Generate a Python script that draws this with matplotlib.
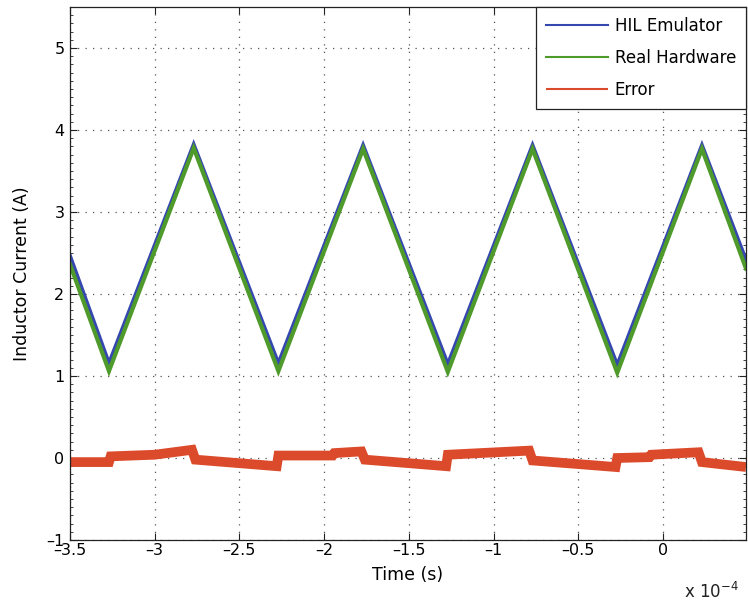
import numpy as np
import matplotlib
matplotlib.use("Agg")
import matplotlib.pyplot as plt
from matplotlib.ticker import FuncFormatter, MultipleLocator

# time breakpoints (units of 1e-4 s) of the triangle current
t_tri = [-3.5, -3.27, -2.77, -2.27, -1.77, -1.27, -0.77, -0.27, 0.23, 0.49]
hil_current = [2.45, 1.14, 3.81, 1.14, 3.80, 1.13, 3.80, 1.12, 3.80, 2.40]
hw_current = [2.36, 1.06, 3.78, 1.06, 3.77, 1.05, 3.77, 1.04, 3.77, 2.31]

# error trace breakpoints
t_err = [-3.5, -3.27, -3.26, -3.0, -2.78, -2.76, -2.28, -2.27, -1.95, -1.94,
         -1.78, -1.76, -1.28, -1.27, -0.79, -0.77, -0.28, -0.27, -0.08, -0.07,
         0.21, 0.23, 0.49]
err = [-0.05, -0.05, 0.02, 0.04, 0.10, -0.02, -0.10, 0.03, 0.03, 0.06,
       0.08, -0.02, -0.10, 0.04, 0.09, -0.03, -0.11, 0.00, 0.01, 0.04,
       0.07, -0.05, -0.11]

x_ticks = [-3.5, -3, -2.5, -2, -1.5, -1, -0.5, 0]
y_ticks = [-1, 0, 1, 2, 3, 4, 5]

scale = 1e-4
t_tri_s = np.array(t_tri) * scale
t_err_s = np.array(t_err) * scale

plt.rcParams['font.family'] = 'DejaVu Sans'

fig = plt.figure(figsize=(7.48, 6.05), dpi=100)
ax = fig.add_axes([70 / 748, 65 / 605, 676 / 748, 533 / 605])

ax.plot(t_tri_s, hil_current, color='#3548b0', lw=3.4, label='HIL Emulator', solid_joinstyle='miter')
ax.plot(t_tri_s, hw_current, color='#4e9a2a', lw=3.0, label='Real Hardware', solid_joinstyle='miter')
ax.plot(t_err_s, err, color='#dc4a2c', lw=7, label='Error', solid_capstyle='butt', solid_joinstyle='miter')

ax.set_xlim(-3.5 * scale, 0.49 * scale)
ax.set_ylim(-1, 5.5)
ax.set_xticks(np.array(x_ticks) * scale)
ax.set_yticks(y_ticks)
ax.yaxis.set_minor_locator(MultipleLocator(0.1))
ax.xaxis.set_major_formatter(FuncFormatter(lambda v, p: '%g' % round(v / scale, 2) if v >= 0 else '\u2013%g' % round(-v / scale, 2)))
ax.yaxis.set_major_formatter(FuncFormatter(lambda v, p: '%g' % v if v >= 0 else '\u2013%g' % -v))

ax.tick_params(which='both', direction='in', top=True, right=True, labelsize=11.5, color='#222222')
ax.tick_params(which='major', length=5, width=0.8)
ax.tick_params(which='minor', length=2.5, width=0.6)
ax.tick_params(axis='x', pad=2)
ax.tick_params(axis='y', pad=4)

ax.grid(True, which='major', color='#555555', linestyle=(0, (1, 5)), linewidth=0.9)
for s in ax.spines.values():
    s.set_color('#222222')
    s.set_linewidth(0.9)

ax.set_xlabel('Time (s)', fontsize=12.5, labelpad=6)
ax.set_ylabel('Inductor Current (A)', fontsize=12.5, labelpad=11)

fig.text(0.915, 0.022, r'x 10$^{-4}$', fontsize=12, ha='left', va='center', color='#222222')

leg = ax.legend(loc='upper right', borderaxespad=0, fancybox=False, framealpha=1,
                edgecolor='#222222', fontsize=12, handlelength=3.7, handletextpad=0.4,
                labelspacing=0.85, borderpad=0.6)
leg.get_frame().set_linewidth(0.9)
for line in leg.get_lines():
    line.set_linewidth(1.5)

fig.savefig('out.png', dpi=100)
